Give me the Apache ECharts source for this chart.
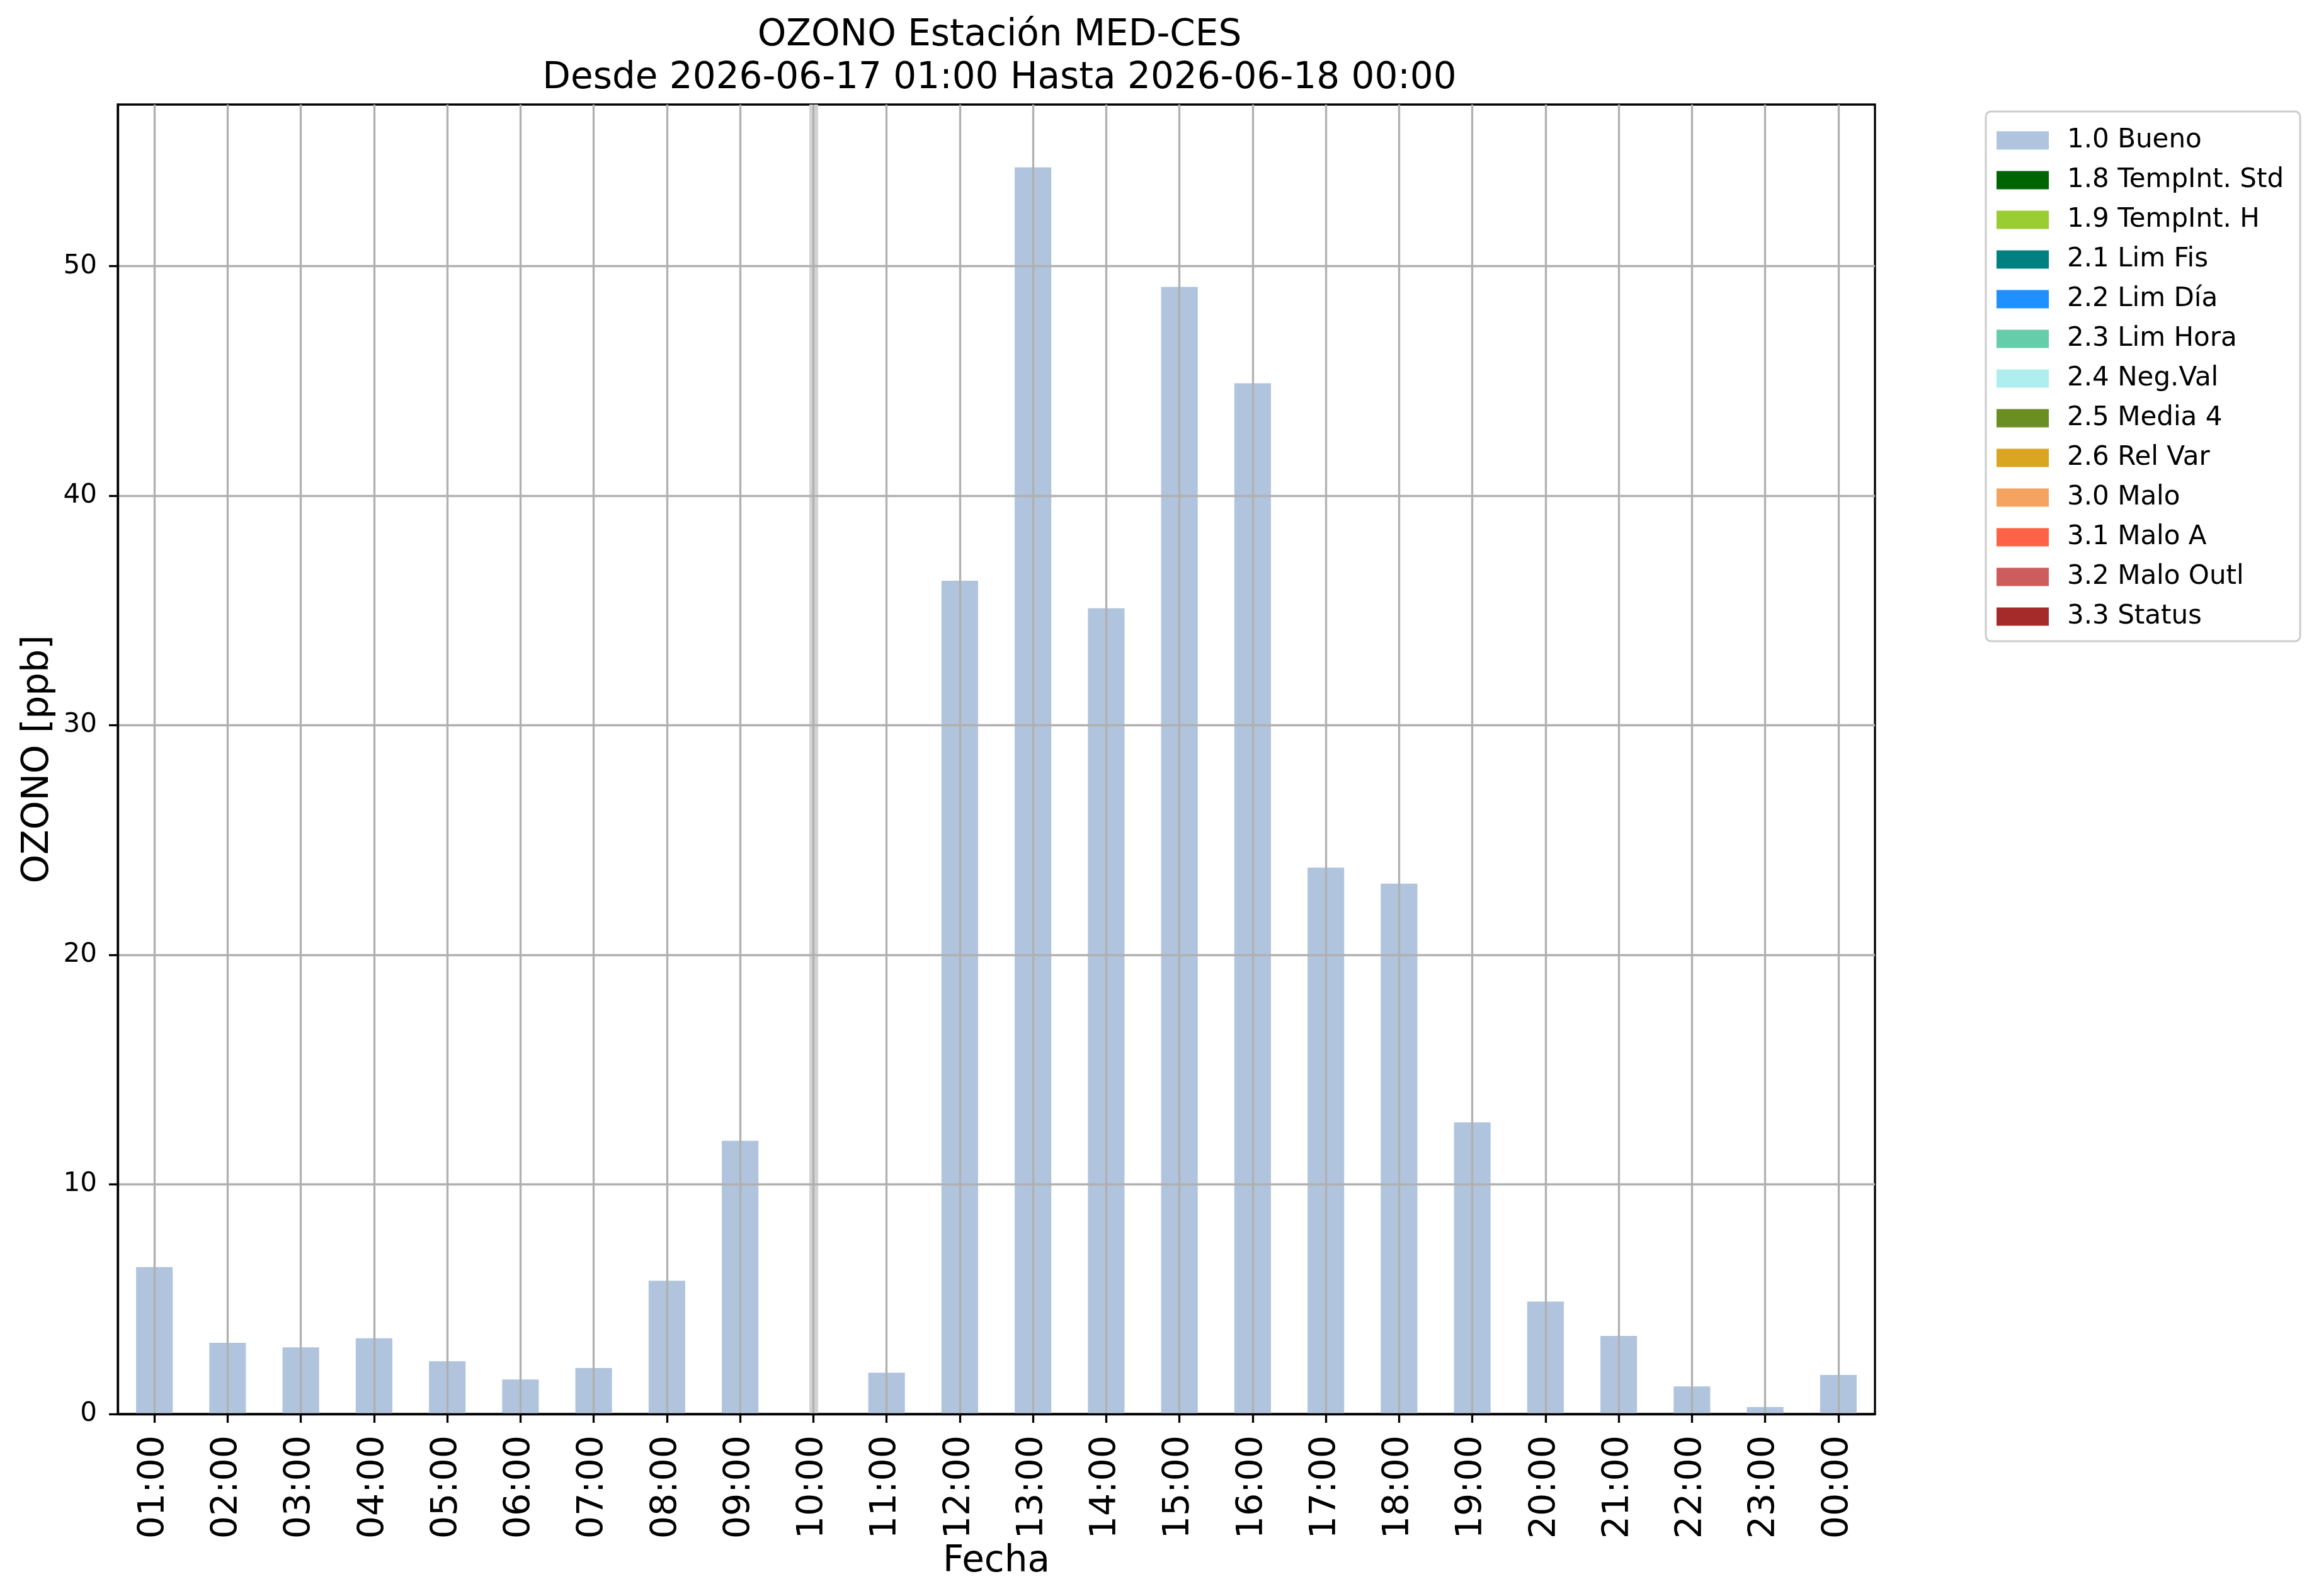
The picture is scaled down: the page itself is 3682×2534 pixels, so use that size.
<!DOCTYPE html>
<html>
<head>
<meta charset="utf-8">
<script src="https://cdn.jsdelivr.net/npm/echarts@6/dist/echarts.min.js"></script>
<style>
html,body{margin:0;padding:0;background:#fff;}
#chart{width:3682px;height:2534px;}
</style>
</head>
<body>
<div id="chart"></div>
<script>
const hours = ['01:00','02:00','03:00','04:00','05:00','06:00','07:00','08:00','09:00','10:00','11:00','12:00','13:00','14:00','15:00','16:00','17:00','18:00','19:00','20:00','21:00','22:00','23:00','00:00'];
const ozono = [6.4, 3.1, 2.9, 3.3, 2.3, 1.5, 2.0, 5.8, 11.9, null, 1.8, 36.3, 54.3, 35.1, 49.1, 44.9, 23.8, 23.1, 12.7, 4.9, 3.4, 1.2, 0.3, 1.7];
const flagNames = ['1.0 Bueno','1.8 TempInt. Std','1.9 TempInt. H','2.1 Lim Fis','2.2 Lim Día','2.3 Lim Hora','2.4 Neg.Val','2.5 Media 4','2.6 Rel Var','3.0 Malo','3.1 Malo A','3.2 Malo Outl','3.3 Status'];
const flagColors = ['#B0C4DE','#006400','#9ACD32','#008080','#1E90FF','#66CDAA','#AFEEEE','#6B8E23','#DAA520','#F4A460','#FF6347','#CD5C5C','#A52A2A'];
const missingHours = ['10:00'];
const yTicks = [0,10,20,30,40,50];
const titleLines = ['OZONO Estación MED-CES','Desde 2026-06-17 01:00 Hasta 2026-06-18 00:00'];

const FONT = 'DejaVu Sans';
const chart = echarts.init(document.getElementById('chart'), null, {renderer:'canvas'});

const series = flagNames.map((name, i) => {
  const s = {
    name: name,
    type: 'bar',
    stack: 'flags',
    barWidth: '50%',
    itemStyle: {color: flagColors[i]},
    data: i === 0 ? ozono : [],
    z: 2,
    silent: true
  };
  if (i === 0) {
    s.markLine = {
      silent: true,
      symbol: ['none','none'],
      label: {show:false},
      lineStyle: {color:'#d3d3d3', width:14, type:'solid', opacity:1},
      data: missingHours.map(h => ({xAxis: h}))
    };
  }
  return s;
});

const option = {
  backgroundColor: '#ffffff',
  animation: false,
  title: {
    text: titleLines.join('\n'),
    left: 1582,
    top: 18,
    textAlign: 'center',
    textStyle: {fontFamily: FONT, fontSize: 58, fontWeight: 'normal', color:'#000', lineHeight: 68}
  },
  legend: {
    orient: 'vertical',
    left: 3153,
    top: 177,
    icon: 'rect',
    itemWidth: 83,
    itemHeight: 29,
    itemGap: 21,
    padding: [25, 26, 18, 17],
    borderColor: '#cccccc',
    borderWidth: 3,
    borderRadius: 8,
    backgroundColor: '#ffffff',
    selectedMode: false,
    textStyle: {fontFamily: FONT, fontSize: 42, color:'#000', lineHeight: 42, padding:[0,0,0,24]},
    data: flagNames
  },
  grid: {
    left: 187, right: 705, top: 166, bottom: 289,
    show: true, borderColor:'#000', borderWidth: 3.3, backgroundColor:'#fff',
    containLabel: false
  },
  xAxis: {
    type: 'category',
    data: hours,
    boundaryGap: true,
    z: 10,
    name: 'Fecha',
    nameLocation: 'middle',
    nameGap: 187,
    nameTextStyle: {fontFamily: FONT, fontSize: 58, color:'#000', lineHeight: 58},
    axisLine: {show:true, lineStyle:{color:'#000', width:3.3}},
    axisTick: {show:true, alignWithLabel:true, length:14, lineStyle:{color:'#000', width:3.3}},
    axisLabel: {rotate: 90, margin: 34, interval: 0, fontFamily: FONT, fontSize: 57, color:'#000'},
    splitLine: {show:true, alignWithLabel:true, interval: 0, lineStyle:{color:'#b0b0b0', width:3.3}}
  },
  yAxis: {
    type: 'value',
    min: 0,
    max: 57.04,
    interval: 10,
    z: 10,
    name: 'OZONO [ppb]',
    nameLocation: 'middle',
    nameGap: 97,
    nameTextStyle: {fontFamily: FONT, fontSize: 58, color:'#000', lineHeight: 58},
    axisLine: {show:true, lineStyle:{color:'#000', width:3.3}},
    axisTick: {show:true, length:14, lineStyle:{color:'#000', width:3.3}, customValues: yTicks},
    axisLabel: {margin: 33, fontFamily: FONT, fontSize: 42, color:'#000', customValues: yTicks},
    splitLine: {show:true, lineStyle:{color:'#b0b0b0', width:3.3}}
  },
  series: series
};
chart.setOption(option);
</script>
</body>
</html>
